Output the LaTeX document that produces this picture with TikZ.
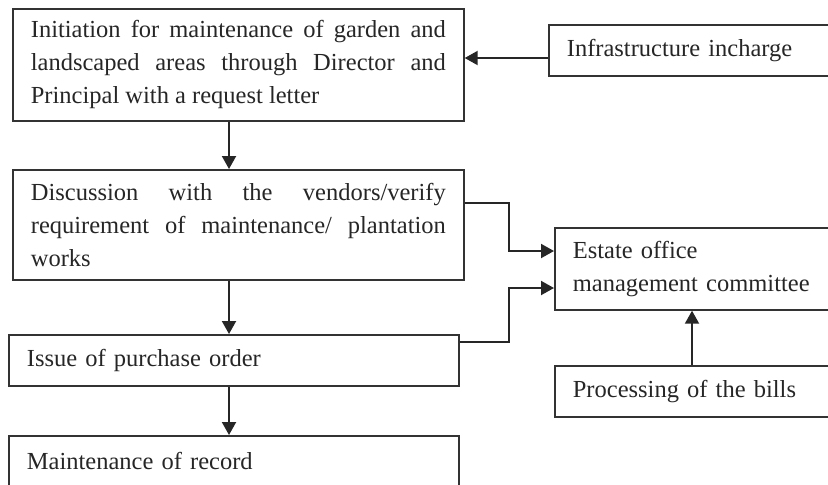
\documentclass[tikz,border=0pt]{standalone}
\usepackage{fontspec}
\setmainfont{Liberation Serif}
\usetikzlibrary{arrows.meta}
\begin{document}
\begin{tikzpicture}[x=0.5pt,y=-0.5pt,
  box/.style={draw=black!80, line width=0.85pt, anchor=north west, inner xsep=9pt, inner ysep=0pt,
    font=\fontsize{12.25pt}{16.5pt}\selectfont, text=black!85},
  arr/.style={draw=black!85, line width=1pt, -{Triangle[length=6.5pt,width=7pt]}}]
\clip (0,0) rectangle (828,484);
\node[box, minimum width=225.5pt, minimum height=56pt, text width=207.5pt, align=justify] (init) at (12,8)
  {Initiation for maintenance of garden and\linebreak landscaped areas through Director and\linebreak Principal with a request letter};
\node[box, minimum width=225.5pt, minimum height=55pt, text width=207.5pt, align=justify] (disc) at (12,169)
  {Discussion with the vendors/verify\linebreak requirement of maintenance/ plantation\linebreak works};
\node[box, minimum width=225pt, minimum height=25.5pt, text width=207pt, align=left] (issue) at (8,334)
  {Issue of purchase order};
\node[box, minimum width=225pt, minimum height=25.5pt, text width=207pt, align=left] (maint) at (8,435)
  {Maintenance of record};
\node[box, minimum width=146pt, minimum height=25.5pt, text width=128pt, align=left] (infra) at (548,24)
  {Infrastructure incharge};
\node[box, minimum width=143pt, minimum height=41pt, text width=125pt, align=left] (estate) at (554,227)
  {Estate office\\management committee};
\node[box, minimum width=143pt, minimum height=25.5pt, text width=125pt, align=left] (proc) at (554,365)
  {Processing of the bills};
\coordinate (c1) at (509,203);
\coordinate (c2) at (509,342);
\draw[arr] (infra.west |- 0,58) -- (init.east |- 0,58);
\draw[arr] (init.south -| 229,0) -- (disc.north -| 229,0);
\draw[arr] (disc.south -| 229,0) -- (issue.north -| 229,0);
\draw[arr] (issue.south -| 229,0) -- (maint.north -| 229,0);
\draw[arr] (disc.east |- c1) -- (c1) |- (estate.west |- 0,251);
\draw[arr] (issue.east |- c2) -- (c2) |- (estate.west |- 0,288);
\draw[arr] (proc.north -| 692,0) -- (estate.south -| 692,0);
\end{tikzpicture}
\end{document}
